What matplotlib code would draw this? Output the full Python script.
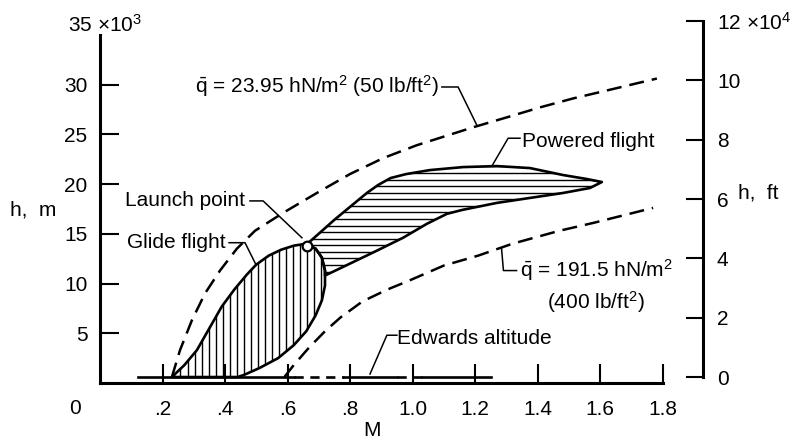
import numpy as np
import matplotlib
matplotlib.use("Agg")
import matplotlib.pyplot as plt
from matplotlib.patches import Polygon
from matplotlib import font_manager

# ---------------- data ----------------
# Dynamic-pressure boundaries (Mach, altitude in 10^3 m)
q_low_M = [0.23, 0.256, 0.294, 0.336, 0.384, 0.438, 0.496, 0.586, 0.694, 0.80,
           0.906, 1.014, 1.194, 1.302, 1.408, 1.514, 1.622, 1.782]
q_low_h = [0.6, 3.3, 6.3, 9.0, 11.3, 13.5, 15.3, 17.1, 19.1, 21.0,
           22.6, 23.9, 25.7, 26.7, 27.7, 28.6, 29.4, 30.6]

q_high_M = [0.59, 0.62, 0.67, 0.72, 0.77, 0.84, 0.92, 0.99, 1.10, 1.21,
            1.32, 1.47, 1.58, 1.77]
q_high_h = [0.6, 1.8, 3.6, 5.2, 6.6, 8.2, 9.4, 10.3, 11.8, 12.8,
            14.0, 15.3, 16.1, 17.6]

# Glide-flight envelope
glide_M = [0.23, 0.27, 0.31, 0.35, 0.39, 0.43, 0.47, 0.50, 0.54, 0.58, 0.62, 0.66,
           0.69, 0.71, 0.72, 0.72, 0.71, 0.69, 0.66, 0.62, 0.57, 0.51, 0.46, 0.44]
glide_h = [0.6, 1.8, 3.3, 5.5, 7.7, 9.4, 10.9, 11.9, 12.8, 13.4, 13.8, 14.0,
           13.5, 12.6, 11.3, 9.8, 8.3, 6.8, 5.2, 3.8, 2.5, 1.5, 0.8, 0.6]

# Powered-flight envelope
powered_M = [0.66, 0.70, 0.75, 0.80, 0.854, 0.89, 0.93, 0.98, 1.056, 1.162, 1.27, 1.376,
             1.482, 1.558, 1.606, 1.568, 1.482, 1.376, 1.27, 1.16, 1.11, 1.046,
             0.97, 0.886, 0.80, 0.72, 0.72, 0.71, 0.69]
powered_h = [13.9, 15.0, 16.4, 17.7, 19.1, 19.9, 20.6, 21.0, 21.4, 21.7, 21.8, 21.6,
             20.9, 20.5, 20.2, 19.6, 19.1, 18.6, 18.1, 17.4, 17.0, 16.0,
             14.6, 13.3, 12.0, 10.8, 11.3, 12.6, 13.5]

launch_M, launch_h = 0.661, 13.8

edwards_h = 0.6
edwards_solid = [(0.12, 0.62), (0.78, 0.95), (1.03, 1.25)]
edwards_dashed = [(0.62, 0.78), (0.95, 1.03)]

x_ticks = [0.2, 0.4, 0.6, 0.8, 1.0, 1.2, 1.4, 1.6, 1.8]
x_labels = [".2", ".4", ".6", ".8", "1.0", "1.2", "1.4", "1.6", "1.8"]
y_ticks_m = [5, 10, 15, 20, 25, 30]
y_labels_m = ["5", "10", "15", "20", "25", "30"]
y_ticks_ft = [0, 20000, 40000, 60000, 80000, 100000, 120000]
y_labels_ft = ["0", "2", "4", "6", "8", "10", "12 \u00d710$^4$"]

# labels: (text, M, h) and their leader lines
labels = [
    (r"$\bar{\mathrm{q}}$ = 23.95 hN/m$^2$ (50 lb/ft$^2$)", 0.304, 29.15),
    ("Powered flight", 1.35, 23.75),
    ("Launch point", 0.08, 17.8),
    ("Glide flight", 0.086, 13.6),
    (r"$\bar{\mathrm{q}}$ = 191.5 hN/m$^2$", 1.344, 10.65),
    (r"(400 lb/ft$^2$)", 1.43, 7.5),
    ("Edwards altitude", 0.95, 3.9),
]
leaders = [
    [(1.094, 29.75), (1.146, 29.75), (1.206, 25.9)],
    [(1.344, 24.6), (1.306, 24.6), (1.254, 21.8)],
    [(0.48, 18.3), (0.522, 18.3), (0.646, 14.6)],
    [(0.413, 14.1), (0.464, 14.1), (0.499, 11.9)],
    [(1.285, 13.5), (1.291, 11.3), (1.333, 11.3)],
    [(0.95, 4.8), (0.918, 4.8), (0.864, 0.9)],
]

# ---------------- style ----------------
avail = {f.name for f in font_manager.fontManager.ttflist}
fam = "Liberation Sans" if "Liberation Sans" in avail else "DejaVu Sans"
plt.rcParams["font.family"] = [fam, "DejaVu Sans"]
plt.rcParams["mathtext.fontset"] = "custom"
plt.rcParams["mathtext.rm"] = fam
plt.rcParams["mathtext.it"] = fam
plt.rcParams["mathtext.bf"] = fam
plt.rcParams["font.size"] = 15

W, H = 796, 446
fig = plt.figure(figsize=(W / 100, H / 100), dpi=100)
ax = fig.add_axes([100 / W, 63 / H, 603 / W, 365 / H])
ax.set_xlim(0, 603 / 312.5)
ax.set_ylim(0, 365 / 9.95)
ax.patch.set_visible(False)

for s in ["top", "right"]:
    ax.spines[s].set_visible(False)
ax.spines["left"].set_bounds(0, 35)
ax.spines["bottom"].set_bounds(0, 1.8)
for s in ["left", "bottom"]:
    ax.spines[s].set_linewidth(2.2)
    ax.spines[s].set_capstyle("projecting")

ax.set_xticks(x_ticks)
ax.set_xticklabels(x_labels)
ax.set_yticks(y_ticks_m)
ax.set_yticklabels(y_labels_m)
ax.tick_params(axis="x", direction="in", length=13.5, width=1.5, pad=12)
ax.tick_params(axis="y", direction="in", length=14, width=1.5, pad=9)

ax2 = ax.twinx()
ax2.set_position([100 / W, 63 / H, 603 / W, 365 / H])
ax2.set_ylim(-2022, 121011)
for s in ["top", "left", "bottom"]:
    ax2.spines[s].set_visible(False)
ax2.spines["right"].set_bounds(0, 120000)
ax2.spines["right"].set_linewidth(2.2)
ax2.set_yticks(y_ticks_ft)
ax2.set_yticklabels(y_labels_ft)
ax2.tick_params(axis="y", direction="in", length=12.5, width=1.5, pad=10)

# ---------------- envelopes with hatching ----------------
lw_out = 1.9
glide_poly = Polygon(np.column_stack([glide_M, glide_h]), closed=True,
                     fill=False, edgecolor="black", lw=lw_out, joinstyle="round")
ax.add_patch(glide_poly)
vl = ax.vlines(np.arange(0.235, 0.73, 0.0225), 0, 40, colors="black", lw=1.0)
vl.set_clip_path(glide_poly)

pow_poly = Polygon(np.column_stack([powered_M, powered_h]), closed=True,
                   fill=False, edgecolor="black", lw=lw_out, joinstyle="round")
ax.add_patch(pow_poly)
hl = ax.hlines(np.arange(11.2, 22.5, 0.66), 0, 2, colors="black", lw=1.0)
hl.set_clip_path(pow_poly)

# ---------------- dynamic-pressure lines ----------------
dash = (6.0, 3.2)
ax.plot(q_low_M, q_low_h, color="black", lw=1.8, linestyle=(0, dash))
ax.plot(q_high_M, q_high_h, color="black", lw=1.8, linestyle=(0, dash))

# ---------------- Edwards altitude ----------------
for a, b in edwards_solid:
    ax.plot([a, b], [edwards_h, edwards_h], color="black", lw=1.9)
for a, b in edwards_dashed:
    ax.plot([a, b], [edwards_h, edwards_h], color="black", lw=1.9,
            linestyle=(0, (3.5, 2.5)))

# launch point
ax.plot([launch_M], [launch_h], marker="o", ms=7, mfc="white", mec="black",
        mew=1.6, linestyle="none", zorder=5)

# ---------------- labels ----------------
for (txt, m, h) in labels:
    ax.text(m, h, txt, ha="left", va="baseline", fontsize=15)
for pts in leaders:
    xs, ys = zip(*pts)
    ax.plot(xs, ys, color="black", lw=1.1)

fig.text(33 / W, 1 - 210 / H, "h,  m", ha="center", va="center", fontsize=15)
fig.text(758 / W, 1 - 193 / H, "h,  ft", ha="center", va="center", fontsize=15)
fig.text(372 / W, 1 - 430 / H, "M", ha="center", va="center", fontsize=15)
fig.text(75 / W, 1 - 408 / H, "0", ha="center", va="center", fontsize=15)
fig.text(68 / W, 1 - 32 / H, "35 \u00d710$^3$", ha="left", va="baseline", fontsize=15)

fig.savefig("out.png", dpi=100)
